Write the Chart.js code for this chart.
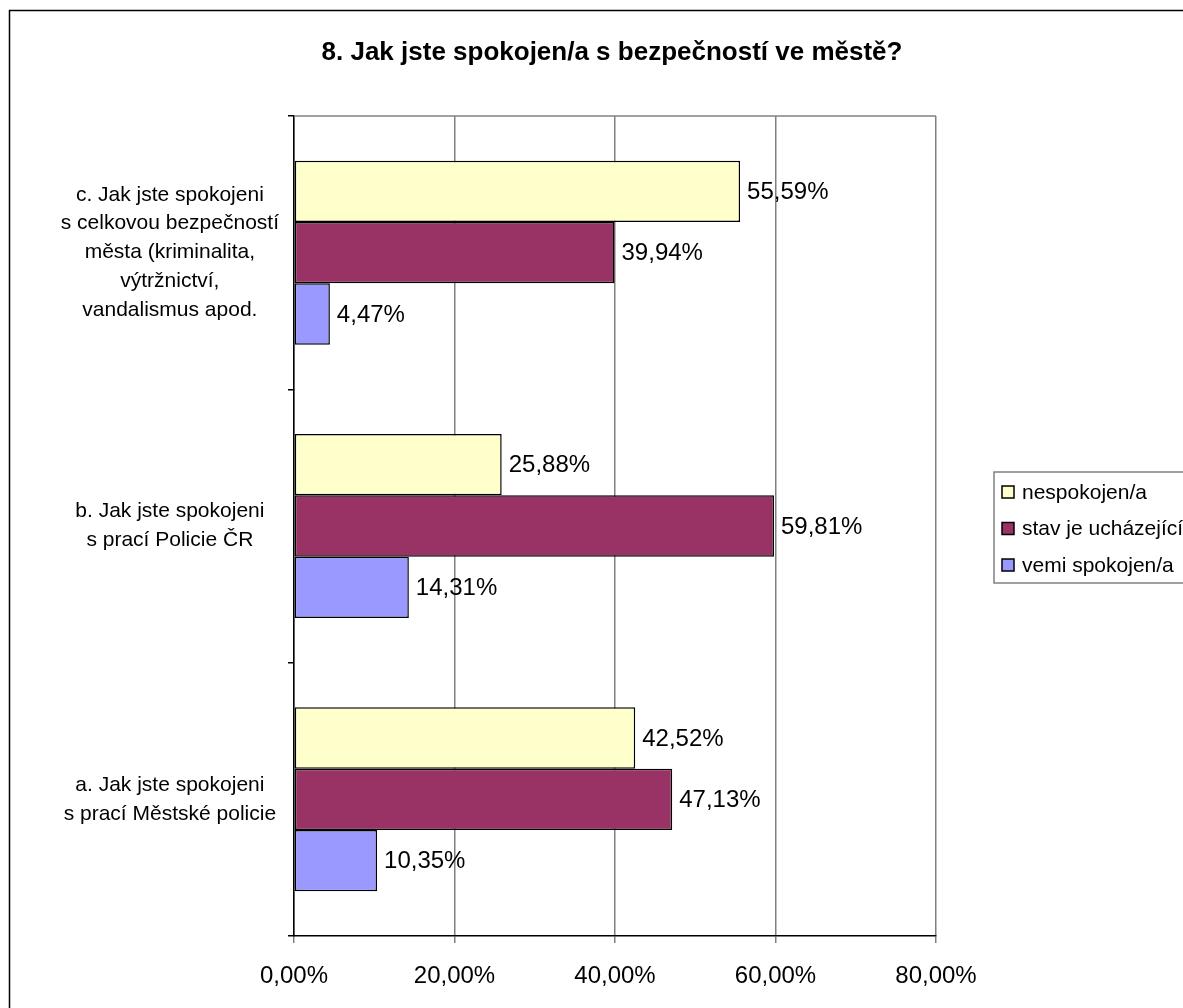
<!DOCTYPE html>
<html>
<head>
<meta charset="utf-8">
<script src="https://cdn.jsdelivr.net/npm/chart.js@4/dist/chart.umd.min.js"></script>
<style>
  html, body { margin: 0; padding: 0; background: #fff; }
  #wrap { width: 1183px; height: 1008px; }
</style>
</head>
<body>
<div id="wrap"><canvas id="chart" width="1183" height="1008"></canvas></div>
<script>
const chartTitle = "8. Jak jste spokojen/a s bezpečností ve městě?";
const categories = [
  ["c. Jak jste spokojeni", "s celkovou bezpečností", "města (kriminalita,", "výtržnictví,", "vandalismus apod."],
  ["b. Jak jste spokojeni", "s prací Policie ČR"],
  ["a. Jak jste spokojeni", "s prací Městské policie"]
];
const seriesNames = ["nespokojen/a", "stav je ucházející", "vemi spokojen/a"];
const nespokojen = [55.59, 25.88, 42.52];
const uchazejici = [39.94, 59.81, 47.13];
const spokojen = [4.47, 14.31, 10.35];
const xTickLabels = ["0,00%", "20,00%", "40,00%", "60,00%", "80,00%"];
const colors = ["#FFFFCC", "#993366", "#9999FF"];

const fmt = v => v.toFixed(2).replace(".", ",") + "%";
const FONT = "'Liberation Sans', Arial, sans-serif";

// popisky hodnot za koncem sloupce
const valueLabels = {
  id: "valueLabels",
  afterDatasetsDraw(chart) {
    const ctx = chart.ctx;
    ctx.save();
    ctx.font = "24px " + FONT;
    ctx.fillStyle = "#000";
    ctx.textAlign = "left";
    ctx.textBaseline = "middle";
    chart.data.datasets.forEach((ds, i) => {
      chart.getDatasetMeta(i).data.forEach((bar, j) => {
        ctx.fillText(fmt(ds.data[j]), bar.x + 7, bar.y + 1);
      });
    });
    ctx.restore();
  }
};

// rámeček, titulek, horní okraj plochy a legenda
const frame = {
  id: "frame",
  beforeDraw(chart) {
    const ctx = chart.ctx;
    ctx.save();
    ctx.strokeStyle = "#000";
    ctx.lineWidth = 1.5;
    ctx.strokeRect(9.5, 10.5, 1200, 1100);
    ctx.restore();
  },
  afterDraw(chart) {
    const ctx = chart.ctx;
    const a = chart.chartArea;
    ctx.save();
    ctx.strokeStyle = "#808080";
    ctx.lineWidth = 1.5;
    ctx.beginPath();
    ctx.moveTo(a.left, a.top);
    ctx.lineTo(a.right, a.top);
    ctx.stroke();

    ctx.fillStyle = "#000";
    ctx.font = "bold 26px " + FONT;
    ctx.textAlign = "center";
    ctx.textBaseline = "middle";
    ctx.fillText(chartTitle, 612, 53);

    // legenda
    ctx.strokeStyle = "#808080";
    ctx.lineWidth = 1.5;
    ctx.strokeRect(994, 472, 260, 111);
    ctx.font = "21px " + FONT;
    ctx.textAlign = "left";
    chart.data.datasets.forEach((ds, i) => {
      const y = 492 + i * 36.5;
      ctx.fillStyle = ds.backgroundColor;
      ctx.fillRect(1002, y - 6, 12, 12);
      ctx.strokeStyle = "#000";
      ctx.lineWidth = 1.5;
      ctx.strokeRect(1002, y - 6, 12, 12);
      ctx.fillStyle = "#000";
      ctx.fillText(ds.label, 1022, y + 1);
    });
    ctx.restore();
  }
};

const ctx = document.getElementById("chart").getContext("2d");
new Chart(ctx, {
  type: "bar",
  data: {
    labels: categories,
    datasets: [
      { label: seriesNames[0], data: nespokojen, backgroundColor: colors[0] },
      { label: seriesNames[1], data: uchazejici, backgroundColor: colors[1] },
      { label: seriesNames[2], data: spokojen, backgroundColor: colors[2] }
    ].map(d => Object.assign(d, {
      borderColor: "#000", borderWidth: 1.5, borderSkipped: false,
      categoryPercentage: 0.673, barPercentage: 1
    }))
  },
  options: {
    indexAxis: "y",
    responsive: false,
    animation: false,
    devicePixelRatio: 1,
    layout: { padding: { left: 0, right: 247, top: 116, bottom: 0 } },
    plugins: { legend: { display: false }, title: { display: false }, tooltip: { enabled: false } },
    scales: {
      x: {
        min: 0, max: 80,
        afterFit: s => { s.height = 72; s.paddingLeft = 0; s.paddingRight = 0; },
        ticks: {
          stepSize: 20,
          callback: v => xTickLabels[Math.round(v / 20)],
          font: { family: FONT, size: 24 },
          color: "#000",
          padding: 19,
          maxRotation: 0
        },
        grid: { color: "#808080", lineWidth: 1.5, tickLength: 7, tickColor: "#808080" },
        border: { color: "#000", width: 1.5 }
      },
      y: {
        afterFit: s => { s.width = 294; s.paddingTop = 0; s.paddingBottom = 0; },
        ticks: {
          crossAlign: "center",
          padding: 9,
          font: { family: FONT, size: 21, lineHeight: 1.38 },
          color: "#000"
        },
        grid: { offset: true, drawOnChartArea: false, tickLength: 6, color: "#000", lineWidth: 1.5 },
        border: { color: "#000", width: 1.5 }
      }
    }
  },
  plugins: [valueLabels, frame]
});
</script>
</body>
</html>
